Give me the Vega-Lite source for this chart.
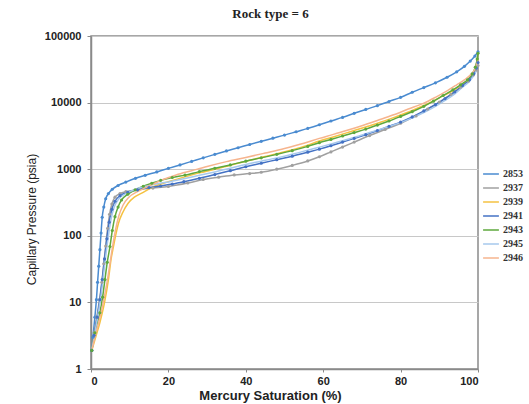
{
"$schema": "https://vega.github.io/schema/vega-lite/v6.json",
"width": 387, "height": 333,
"autosize": "none",
"padding": {"left": 91, "top": 36, "right": 51, "bottom": 35},
"background": "white",
"config": {
  "view": {"stroke": "#8a8a8a", "strokeWidth": 1.5},
  "axis": {"labelFont": "Liberation Sans", "labelFontWeight": "bold", "labelFontSize": 11, "labelColor": "#222", "titleFont": "Liberation Sans", "titleColor": "#222", "domainColor": "#8a8a8a", "domainWidth": 1.5, "tickColor": "#8a8a8a", "gridColor": "#c8c8c8", "gridWidth": 1}
},
"title": {"text": "Rock type = 6", "font": "Liberation Serif", "fontSize": 13, "fontWeight": "bold", "color": "#222", "dx": -14, "offset": 9},
"datasets": {
"d": [
{"id":"2853","s":0.2,"p":1.9},{"id":"2853","s":0.5,"p":3},{"id":"2853","s":1,"p":6},{"id":"2853","s":1.4,"p":11},{"id":"2853","s":1.7,"p":20},{"id":"2853","s":2,"p":35},{"id":"2853","s":2.3,"p":62},{"id":"2853","s":2.6,"p":110},{"id":"2853","s":2.9,"p":190},{"id":"2853","s":3.3,"p":270},{"id":"2853","s":3.8,"p":360},{"id":"2853","s":4.5,"p":430},{"id":"2853","s":5.5,"p":500},{"id":"2853","s":7,"p":570},{"id":"2853","s":9,"p":640},{"id":"2853","s":11.5,"p":730},{"id":"2853","s":14,"p":810},{"id":"2853","s":17,"p":910},{"id":"2853","s":20,"p":1030},{"id":"2853","s":23,"p":1160},{"id":"2853","s":26,"p":1310},{"id":"2853","s":29,"p":1480},{"id":"2853","s":32,"p":1670},{"id":"2853","s":35,"p":1880},{"id":"2853","s":38,"p":2100},{"id":"2853","s":41,"p":2350},{"id":"2853","s":44,"p":2620},{"id":"2853","s":47,"p":2920},{"id":"2853","s":50,"p":3250},{"id":"2853","s":53,"p":3650},{"id":"2853","s":56,"p":4100},{"id":"2853","s":59,"p":4650},{"id":"2853","s":62,"p":5300},{"id":"2853","s":65,"p":6000},{"id":"2853","s":68,"p":6900},{"id":"2853","s":71,"p":7900},{"id":"2853","s":74,"p":9000},{"id":"2853","s":77,"p":10400},{"id":"2853","s":80,"p":12000},{"id":"2853","s":83,"p":14300},{"id":"2853","s":86,"p":16800},{"id":"2853","s":89,"p":19800},{"id":"2853","s":92,"p":24000},{"id":"2853","s":94.5,"p":29000},{"id":"2853","s":96.5,"p":35000},{"id":"2853","s":98,"p":42000},{"id":"2853","s":99.2,"p":50000},{"id":"2853","s":100,"p":58000},
{"id":"2937","s":0.2,"p":1.9},{"id":"2937","s":0.8,"p":3.5},{"id":"2937","s":1.5,"p":6},{"id":"2937","s":2.2,"p":11},{"id":"2937","s":2.8,"p":20},{"id":"2937","s":3.3,"p":38},{"id":"2937","s":3.8,"p":70},{"id":"2937","s":4.3,"p":130},{"id":"2937","s":4.8,"p":210},{"id":"2937","s":5.4,"p":300},{"id":"2937","s":6.2,"p":380},{"id":"2937","s":7.5,"p":430},{"id":"2937","s":9,"p":460},{"id":"2937","s":12,"p":490},{"id":"2937","s":16,"p":520},{"id":"2937","s":20,"p":550},{"id":"2937","s":25,"p":620},{"id":"2937","s":29,"p":700},{"id":"2937","s":33,"p":760},{"id":"2937","s":37,"p":820},{"id":"2937","s":41,"p":860},{"id":"2937","s":44,"p":900},{"id":"2937","s":48,"p":1000},{"id":"2937","s":52,"p":1140},{"id":"2937","s":56,"p":1330},{"id":"2937","s":59,"p":1540},{"id":"2937","s":62,"p":1820},{"id":"2937","s":65,"p":2150},{"id":"2937","s":68,"p":2550},{"id":"2937","s":72,"p":3200},{"id":"2937","s":76,"p":3950},{"id":"2937","s":80,"p":4900},{"id":"2937","s":84,"p":6300},{"id":"2937","s":87,"p":8000},{"id":"2937","s":90,"p":10200},{"id":"2937","s":93,"p":13300},{"id":"2937","s":95.5,"p":17000},{"id":"2937","s":97.5,"p":21000},{"id":"2937","s":98.8,"p":26000},{"id":"2937","s":99.6,"p":31000},{"id":"2937","s":100,"p":36000},
{"id":"2939","s":0.2,"p":1.9},{"id":"2939","s":1.2,"p":3},{"id":"2939","s":2.3,"p":5},{"id":"2939","s":3.5,"p":10},{"id":"2939","s":4.5,"p":22},{"id":"2939","s":5.2,"p":45},{"id":"2939","s":5.8,"p":69},{"id":"2939","s":6.5,"p":110},{"id":"2939","s":7.1,"p":154},{"id":"2939","s":8.3,"p":230},{"id":"2939","s":9.6,"p":308},{"id":"2939","s":11.2,"p":380},{"id":"2939","s":13.1,"p":437},{"id":"2939","s":16,"p":540},{"id":"2939","s":20,"p":650},{"id":"2939","s":24,"p":760},{"id":"2939","s":28,"p":880},{"id":"2939","s":32,"p":1000},{"id":"2939","s":36,"p":1150},{"id":"2939","s":40,"p":1320},{"id":"2939","s":45,"p":1550},{"id":"2939","s":50,"p":1830},{"id":"2939","s":55,"p":2200},{"id":"2939","s":59,"p":2650},{"id":"2939","s":63,"p":3100},{"id":"2939","s":67,"p":3650},{"id":"2939","s":71,"p":4300},{"id":"2939","s":75,"p":5100},{"id":"2939","s":79,"p":6200},{"id":"2939","s":83,"p":7600},{"id":"2939","s":87,"p":9600},{"id":"2939","s":90,"p":11800},{"id":"2939","s":93,"p":14500},{"id":"2939","s":95.5,"p":18000},{"id":"2939","s":97.5,"p":22000},{"id":"2939","s":98.8,"p":27000},{"id":"2939","s":99.5,"p":35000},{"id":"2939","s":99.8,"p":45000},{"id":"2939","s":100,"p":60000},
{"id":"2941","s":0.2,"p":1.9},{"id":"2941","s":0.8,"p":3.2},{"id":"2941","s":1.6,"p":6},{"id":"2941","s":2.3,"p":11},{"id":"2941","s":2.9,"p":22},{"id":"2941","s":3.5,"p":45},{"id":"2941","s":4.1,"p":90},{"id":"2941","s":4.7,"p":160},{"id":"2941","s":5.4,"p":250},{"id":"2941","s":6.2,"p":330},{"id":"2941","s":7.5,"p":400},{"id":"2941","s":9.5,"p":450},{"id":"2941","s":12,"p":490},{"id":"2941","s":15,"p":530},{"id":"2941","s":18,"p":560},{"id":"2941","s":21,"p":600},{"id":"2941","s":24,"p":650},{"id":"2941","s":28,"p":730},{"id":"2941","s":32,"p":830},{"id":"2941","s":36,"p":950},{"id":"2941","s":40,"p":1090},{"id":"2941","s":44,"p":1230},{"id":"2941","s":48,"p":1390},{"id":"2941","s":52,"p":1570},{"id":"2941","s":56,"p":1800},{"id":"2941","s":59,"p":2000},{"id":"2941","s":62,"p":2250},{"id":"2941","s":65,"p":2550},{"id":"2941","s":68,"p":2900},{"id":"2941","s":71,"p":3300},{"id":"2941","s":74,"p":3800},{"id":"2941","s":77,"p":4400},{"id":"2941","s":80,"p":5100},{"id":"2941","s":83,"p":6100},{"id":"2941","s":86,"p":7500},{"id":"2941","s":89,"p":9300},{"id":"2941","s":91.5,"p":11500},{"id":"2941","s":94,"p":14500},{"id":"2941","s":96,"p":18000},{"id":"2941","s":97.8,"p":22000},{"id":"2941","s":98.9,"p":27000},{"id":"2941","s":99.6,"p":33000},{"id":"2941","s":100,"p":40000},
{"id":"2943","s":0.2,"p":1.9},{"id":"2943","s":1,"p":3.5},{"id":"2943","s":2.3,"p":7},{"id":"2943","s":3,"p":12},{"id":"2943","s":3.6,"p":22},{"id":"2943","s":4.2,"p":40},{"id":"2943","s":4.9,"p":69},{"id":"2943","s":5.5,"p":120},{"id":"2943","s":6.2,"p":194},{"id":"2943","s":7,"p":270},{"id":"2943","s":7.9,"p":345},{"id":"2943","s":9.5,"p":420},{"id":"2943","s":11.4,"p":490},{"id":"2943","s":13.5,"p":555},{"id":"2943","s":15.7,"p":615},{"id":"2943","s":18,"p":680},{"id":"2943","s":21,"p":750},{"id":"2943","s":24.3,"p":815},{"id":"2943","s":28,"p":920},{"id":"2943","s":32,"p":1030},{"id":"2943","s":36,"p":1160},{"id":"2943","s":40,"p":1320},{"id":"2943","s":44,"p":1480},{"id":"2943","s":48,"p":1670},{"id":"2943","s":52,"p":1900},{"id":"2943","s":56,"p":2200},{"id":"2943","s":59,"p":2500},{"id":"2943","s":62,"p":2800},{"id":"2943","s":65,"p":3150},{"id":"2943","s":68,"p":3550},{"id":"2943","s":71,"p":4000},{"id":"2943","s":74,"p":4600},{"id":"2943","s":77,"p":5300},{"id":"2943","s":80,"p":6200},{"id":"2943","s":83,"p":7300},{"id":"2943","s":86,"p":8800},{"id":"2943","s":88.5,"p":10500},{"id":"2943","s":91,"p":12800},{"id":"2943","s":93.5,"p":15500},{"id":"2943","s":95.5,"p":18500},{"id":"2943","s":97.3,"p":22000},{"id":"2943","s":98.5,"p":27000},{"id":"2943","s":99.3,"p":34000},{"id":"2943","s":99.8,"p":45000},{"id":"2943","s":100,"p":55000},
{"id":"2945","s":0.2,"p":1.9},{"id":"2945","s":1,"p":3.5},{"id":"2945","s":1.9,"p":7},{"id":"2945","s":2.7,"p":14},{"id":"2945","s":3.3,"p":28},{"id":"2945","s":3.9,"p":55},{"id":"2945","s":4.5,"p":100},{"id":"2945","s":5.2,"p":180},{"id":"2945","s":6,"p":270},{"id":"2945","s":7.2,"p":360},{"id":"2945","s":9,"p":430},{"id":"2945","s":11.5,"p":500},{"id":"2945","s":14.5,"p":560},{"id":"2945","s":17.5,"p":610},{"id":"2945","s":20.4,"p":650},{"id":"2945","s":24,"p":720},{"id":"2945","s":28,"p":810},{"id":"2945","s":32,"p":910},{"id":"2945","s":36,"p":1030},{"id":"2945","s":40,"p":1180},{"id":"2945","s":44,"p":1320},{"id":"2945","s":48,"p":1480},{"id":"2945","s":52,"p":1680},{"id":"2945","s":56,"p":1930},{"id":"2945","s":60,"p":2220},{"id":"2945","s":64,"p":2580},{"id":"2945","s":68,"p":3000},{"id":"2945","s":72,"p":3550},{"id":"2945","s":76,"p":4200},{"id":"2945","s":80,"p":5000},{"id":"2945","s":83,"p":5900},{"id":"2945","s":86,"p":7100},{"id":"2945","s":89,"p":8800},{"id":"2945","s":91.5,"p":10800},{"id":"2945","s":94,"p":13500},{"id":"2945","s":96,"p":17000},{"id":"2945","s":97.8,"p":21000},{"id":"2945","s":99,"p":26000},{"id":"2945","s":99.7,"p":32000},{"id":"2945","s":100,"p":38000},
{"id":"2946","s":0.2,"p":1.9},{"id":"2946","s":1,"p":3},{"id":"2946","s":2,"p":5},{"id":"2946","s":3,"p":9},{"id":"2946","s":4,"p":18},{"id":"2946","s":4.8,"p":35},{"id":"2946","s":5.5,"p":65},{"id":"2946","s":6.3,"p":120},{"id":"2946","s":7.2,"p":200},{"id":"2946","s":8.3,"p":290},{"id":"2946","s":9.8,"p":380},{"id":"2946","s":12,"p":460},{"id":"2946","s":15,"p":560},{"id":"2946","s":18.3,"p":690},{"id":"2946","s":22,"p":820},{"id":"2946","s":26,"p":950},{"id":"2946","s":30,"p":1100},{"id":"2946","s":35,"p":1300},{"id":"2946","s":40,"p":1500},{"id":"2946","s":45,"p":1750},{"id":"2946","s":50,"p":2050},{"id":"2946","s":55,"p":2450},{"id":"2946","s":59,"p":2900},{"id":"2946","s":62,"p":3250},{"id":"2946","s":66,"p":3800},{"id":"2946","s":70,"p":4500},{"id":"2946","s":74,"p":5400},{"id":"2946","s":78,"p":6500},{"id":"2946","s":82,"p":8000},{"id":"2946","s":86,"p":9800},{"id":"2946","s":89,"p":12000},{"id":"2946","s":92,"p":15000},{"id":"2946","s":94.5,"p":18500},{"id":"2946","s":96.5,"p":22000},{"id":"2946","s":98,"p":26000},{"id":"2946","s":99.2,"p":32000},{"id":"2946","s":99.8,"p":40000},{"id":"2946","s":100,"p":45000}
]
},
"data": {"name": "d"},
"encoding": {
  "x": {"field": "s", "type": "quantitative", "scale": {"domain": [0, 100], "nice": false},
        "axis": {"values": [0,20,40,60,80,100], "grid": false, "title": "Mercury Saturation (%)", "titleFontSize": 13, "titleFontWeight": "bold", "titlePadding": 3, "titleX": 179, "tickSize": 3, "labelPadding": 3}},
  "y": {"field": "p", "type": "quantitative", "scale": {"type": "log", "domain": [1, 100000], "nice": false},
        "axis": {"values": [1,10,100,1000,10000,100000], "format": "d", "grid": true, "title": "Capillary Pressure (psia)", "titleFontSize": 12, "titleFontWeight": "normal", "titleX": -53, "titleY": 183, "tickSize": 4, "labelPadding": 6}},
  "color": {"field": "id", "type": "nominal",
    "scale": {"domain": ["2853","2937","2939","2941","2943","2945","2946"], "range": ["#4a8bd0","#a0a0a0","#f5c242","#4472c4","#5ea83c","#a6c8ec","#f6b48e"]},
    "legend": {"title": null, "orient": "none", "legendX": 391, "legendY": 133, "symbolType": "stroke", "symbolStrokeWidth": 1.5, "symbolSize": 250, "labelFont": "Liberation Serif", "labelFontWeight": "bold", "labelFontSize": 10, "labelColor": "#333", "clipHeight": 10, "rowPadding": 4, "labelOffset": 3}}
},
"layer": [
  {"mark": {"type": "line", "strokeWidth": 1.5, "interpolate": "monotone"}},
  {"transform": [{"filter": {"field": "id", "oneOf": ["2853","2937","2941","2943"]}}],
   "mark": {"type": "point", "filled": true, "size": 10, "opacity": 1}}
]
}
